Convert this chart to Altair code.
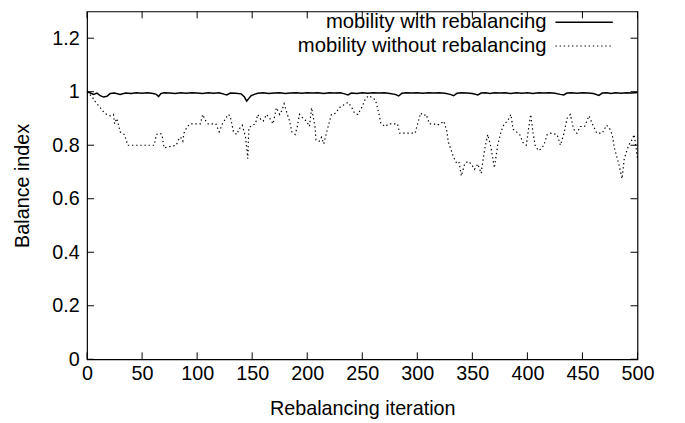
import altair as alt
import pandas as pd

# ---- data ----
with_iter = [0, 3, 6, 9, 12, 15, 18, 21, 25, 30, 35, 40, 45, 50, 55, 60, 63, 65, 67, 70, 75, 80, 85, 90, 95,
             100, 105, 110, 115, 120, 125, 127, 130, 135, 140, 143, 145, 147, 149, 152, 155, 160, 165, 170,
             175, 180, 185, 190, 195, 200, 205, 210, 215, 220, 225, 230, 234, 237, 240, 245, 250, 255, 260,
             265, 270, 275, 280, 283, 286, 290, 295, 300, 305, 310, 315, 320, 325, 330, 333, 336, 340, 345,
             350, 355, 358, 362, 366, 370, 375, 380, 385, 390, 395, 400, 405, 410, 415, 420, 425, 430, 433,
             436, 440, 445, 450, 455, 460, 465, 468, 472, 476, 480, 485, 490, 495, 500]
with_val = [1.0, 0.995, 0.99, 0.995, 0.985, 0.98, 0.983, 0.993, 0.995, 0.99, 0.995, 0.993, 0.996, 0.994,
            0.996, 0.993, 0.99, 0.982, 0.993, 0.996, 0.995, 0.993, 0.996, 0.994, 0.996,
            0.995, 0.993, 0.996, 0.994, 0.996, 0.99, 0.988, 0.995, 0.994, 0.992, 0.98, 0.965, 0.975, 0.985,
            0.99, 0.994, 0.996, 0.993, 0.995,
            0.996, 0.993, 0.995, 0.996, 0.994, 0.996, 0.995, 0.996, 0.993, 0.996, 0.995, 0.996, 0.992, 0.988,
            0.995, 0.993, 0.996, 0.994, 0.996,
            0.995, 0.996, 0.993, 0.99, 0.984, 0.994, 0.996, 0.995, 0.996, 0.994, 0.996, 0.995, 0.996, 0.994,
            0.99, 0.985, 0.994, 0.996, 0.995,
            0.993, 0.988, 0.995, 0.996, 0.993, 0.996, 0.995, 0.996, 0.993, 0.996, 0.994, 0.996, 0.993, 0.996,
            0.995, 0.996, 0.994, 0.99, 0.988,
            0.995, 0.996, 0.994, 0.996, 0.995, 0.993, 0.986, 0.995, 0.996, 0.993, 0.996, 0.994, 0.996, 0.995,
            0.997]

without_iter = [0, 2, 4, 7, 10, 12, 16, 18, 21, 24, 25, 27, 29, 30, 34, 37, 45, 55, 61, 63, 66, 68, 70, 75,
                81, 83, 85, 87, 88, 91, 94, 100, 103, 105, 108, 110, 117, 120, 123, 126, 128, 130, 133, 136,
                138, 141, 144, 146, 147, 150, 153, 155, 158, 160, 163, 166, 169, 172, 175, 177, 179, 182, 184,
                186, 189, 191, 193, 195, 197, 200, 202, 204, 207, 208, 211, 213, 215, 219, 222, 226, 229, 233,
                237, 240, 243, 246, 250, 253, 256, 258, 262, 265, 267, 271, 274, 282, 284, 290, 298, 301, 303,
                306, 308, 311, 315, 318, 321, 324, 327, 328, 330, 333, 336, 338, 340, 343, 346, 349, 352, 355,
                358, 361, 364, 367, 370, 373, 376, 379, 382, 385, 387, 390, 393, 396, 399, 401, 403, 405, 407,
                410, 412, 415, 418, 421, 427, 430, 433, 436, 439, 442, 445, 448, 452, 456, 459, 463, 468, 472,
                475, 477, 479, 483, 486, 488, 492, 495, 497, 499, 500]
without_val = [1.0, 0.99, 0.985, 0.965, 0.95, 0.94, 0.92, 0.915, 0.91, 0.915, 0.88, 0.9, 0.87, 0.85, 0.84,
               0.8, 0.8, 0.8, 0.8, 0.84, 0.845, 0.84, 0.79, 0.795,
               0.8, 0.82, 0.83, 0.815, 0.845, 0.87, 0.88, 0.88, 0.88, 0.915, 0.89, 0.88, 0.88, 0.85, 0.88,
               0.9, 0.915, 0.91, 0.85, 0.84,
               0.86, 0.875, 0.83, 0.75, 0.865, 0.875, 0.88, 0.915, 0.895, 0.89, 0.915, 0.9, 0.88, 0.94, 0.915,
               0.93, 0.955, 0.915, 0.89,
               0.85, 0.84, 0.87, 0.915, 0.905, 0.9, 0.885, 0.87, 0.94, 0.87, 0.82, 0.815, 0.83, 0.805, 0.87,
               0.915, 0.92, 0.94, 0.95,
               0.96, 0.945, 0.92, 0.915, 0.945, 0.975, 0.985, 0.98, 0.97, 0.92, 0.88, 0.87, 0.88, 0.88, 0.845,
               0.845, 0.845, 0.89, 0.92,
               0.91, 0.915, 0.88, 0.88, 0.875, 0.88, 0.89, 0.85, 0.815, 0.79, 0.755, 0.73, 0.735, 0.685, 0.73,
               0.74, 0.73, 0.71, 0.73,
               0.695, 0.78, 0.84, 0.79, 0.715, 0.8, 0.85, 0.88, 0.89, 0.915, 0.86, 0.85, 0.84, 0.81, 0.8, 0.86,
               0.915, 0.85, 0.8,
               0.78, 0.785, 0.8, 0.84, 0.845, 0.84, 0.8, 0.84, 0.9, 0.915, 0.86, 0.845, 0.87, 0.87, 0.91, 0.88,
               0.845, 0.845, 0.875,
               0.86, 0.84, 0.79, 0.73, 0.675, 0.75, 0.8, 0.82, 0.84, 0.78, 0.75]

x_ticks = [0, 50, 100, 150, 200, 250, 300, 350, 400, 450, 500]
y_ticks = [0, 0.2, 0.4, 0.6, 0.8, 1.0, 1.2]
legend_labels = ["mobility with rebalancing", "mobility without rebalancing"]

# ---- layout / style ----
W, H = 557, 352
FONT = "Liberation Sans"
FS = 20
TICK = 7
DOT = [1.4, 2.8]

xs = alt.Scale(domain=[0, 500], nice=False, zero=False)
ys = alt.Scale(domain=[0, 1.3], nice=False, zero=False)
x_axis = alt.Axis(values=x_ticks, title="Rebalancing iteration", format="d",
                  labelPadding=4, titlePadding=16, labelFlush=False, labelOverlap=False)
y_axis = alt.Axis(values=y_ticks, title="Balance index", format="~g",
                  labelPadding=8, titlePadding=19, labelFlush=False, labelOverlap=False)

df_with = pd.DataFrame({"iteration": with_iter, "balance": with_val})
df_without = pd.DataFrame({"iteration": without_iter, "balance": without_val})
df_xt = pd.DataFrame({"iteration": x_ticks})
df_yt = pd.DataFrame({"balance": y_ticks})

solid = alt.Chart(df_with).mark_line(color="black", strokeWidth=1.5).encode(
    x=alt.X("iteration:Q", scale=xs, axis=x_axis),
    y=alt.Y("balance:Q", scale=ys, axis=y_axis),
)

dotted = alt.Chart(df_without).mark_line(color="black", strokeWidth=1.2, strokeDash=DOT).encode(
    x=alt.X("iteration:Q", scale=xs, axis=x_axis),
    y=alt.Y("balance:Q", scale=ys, axis=y_axis),
)

# inward ticks on all four sides (gnuplot style)
xt_bottom = alt.Chart(df_xt).mark_rule(color="black", strokeWidth=1).encode(
    x=alt.X("iteration:Q", scale=xs, axis=x_axis), y=alt.value(H), y2=alt.value(H - TICK))
xt_top = alt.Chart(df_xt).mark_rule(color="black", strokeWidth=1).encode(
    x=alt.X("iteration:Q", scale=xs, axis=x_axis), y=alt.value(0), y2=alt.value(TICK))
yt_left = alt.Chart(df_yt).mark_rule(color="black", strokeWidth=1).encode(
    y=alt.Y("balance:Q", scale=ys, axis=y_axis), x=alt.value(0), x2=alt.value(TICK))
yt_right = alt.Chart(df_yt).mark_rule(color="black", strokeWidth=1).encode(
    y=alt.Y("balance:Q", scale=ys, axis=y_axis), x=alt.value(W), x2=alt.value(W - TICK))

# legend (gnuplot key: text right-aligned, sample to the right)
LX_TEXT, LX0, LX1 = 465, 474, 532
LY = [11, 35]
leg_df = pd.DataFrame({"label": legend_labels})
leg_text1 = alt.Chart(leg_df.iloc[[0]]).mark_text(
    align="right", baseline="middle", font=FONT, fontSize=20.5, color="black").encode(
    text="label:N", x=alt.value(LX_TEXT), y=alt.value(LY[0]))
leg_text2 = alt.Chart(leg_df.iloc[[1]]).mark_text(
    align="right", baseline="middle", font=FONT, fontSize=20.5, color="black").encode(
    text="label:N", x=alt.value(LX_TEXT), y=alt.value(LY[1]))
leg_line1 = alt.Chart(leg_df.iloc[[0]]).mark_rule(color="black", strokeWidth=1.5).encode(
    x=alt.value(LX0), x2=alt.value(LX1), y=alt.value(LY[0]))
leg_line2 = alt.Chart(leg_df.iloc[[1]]).mark_rule(color="black", strokeWidth=1.2, strokeDash=DOT).encode(
    x=alt.value(LX0), x2=alt.value(LX1), y=alt.value(LY[1]))

chart = alt.layer(
    solid, dotted, xt_bottom, xt_top, yt_left, yt_right,
    leg_text1, leg_text2, leg_line1, leg_line2,
).properties(
    width=W, height=H,
    autosize=alt.AutoSizeParams(type="none"),
    padding={"left": 80, "top": 1, "right": 40, "bottom": 62},
).configure_view(
    stroke="black", strokeWidth=1.2,
).configure_axis(
    grid=False, domain=False, ticks=False,
    labelFont=FONT, labelFontSize=FS, labelColor="black",
    titleFont=FONT, titleFontSize=FS, titleColor="black", titleFontWeight="normal",
)

chart.save("out.html", embed_options={"renderer": "svg", "actions": False})
